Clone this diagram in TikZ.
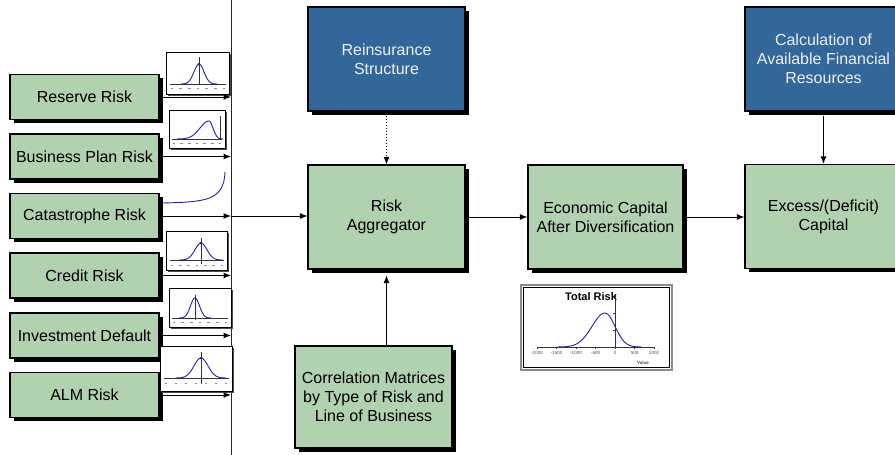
\documentclass[tikz,border=0pt]{standalone}
\usepackage{fontspec}
\setmainfont{Liberation Sans}
\usetikzlibrary{arrows.meta,shadows}
\definecolor{boxgreen}{RGB}{178,209,176}
\definecolor{boxblue}{RGB}{51,102,153}
\definecolor{curveblue}{RGB}{36,36,150}
\definecolor{bluetext}{RGB}{235,240,245}
\newcommand{\mychartbox}[4]{%
  \fill[black!70] (#1+2,#2+2) rectangle (#3+2,#4+2);
  \draw[fill=white, draw=black, line width=0.9pt] (#1,#2) rectangle (#3,#4);}
\newcommand{\myskew}[5]{% mu, sigma left, sigma right, amplitude, axis y
  \pgfmathsetmacro\myA{#1-3.6*#2}\pgfmathsetmacro\myB{#1+3.6*#3}%
  \draw[curveline] plot[domain=\myA:#1,samples=30,smooth] (\x,{#5-#4*exp(-((\x-#1)*(\x-#1))/(2*#2*#2))});
  \draw[curveline] plot[domain=#1:\myB,samples=30,smooth] (\x,{#5-#4*exp(-((\x-#1)*(\x-#1))/(2*#3*#3))});}
\newcommand{\myspecks}[3]{% x1, x2, y
  \foreach \k in {0,...,6} {\pgfmathsetmacro\myX{#1+(#2-#1)*\k/6}
    \draw[black!45, line width=0.7pt] (\myX-1.2,#3) -- (\myX+1.2,#3);}}
\begin{document}
\begin{tikzpicture}[x=1pt,y=-1pt,
  box/.style={draw=black, line width=1.2pt, inner sep=0pt, align=center,
    font=\fontsize{16}{19}\selectfont,
    drop shadow={shadow xshift=3.5pt, shadow yshift=-3.5pt, fill=black, opacity=1}},
  greenbox/.style={box, fill=boxgreen, text=black},
  bluebox/.style={box, fill=boxblue, text=bluetext},
  leftbox/.style={greenbox, minimum width=149pt, minimum height=45pt},
  bigbox/.style={minimum width=157pt, minimum height=104pt},
  conn/.style={line width=1pt, -{Latex[length=7.5pt,width=6pt]}},
  vline/.style={line width=1pt, black!85},
  axisline/.style={line width=0.6pt, black!80},
  curveline/.style={line width=0.9pt, curveblue},
  ticklabel/.style={font=\fontsize{4.5}{5}\selectfont, text=black!70, inner sep=0pt}
]
\useasboundingbox (0,0) rectangle (895,455);
\fill[white] (0,0) rectangle (895,455);

% vertical collector line
\coordinate (vtop) at (231,0);
\coordinate (vbot) at (231,455);
\draw[vline] (vtop) -- (vbot);

% left risk boxes
\node[leftbox] (res) at (84.5,97) {Reserve Risk};
\node[leftbox] (bus) at (84.5,156.5) {Business Plan Risk};
\node[leftbox] (cat) at (84.5,216) {Catastrophe Risk};
\node[leftbox] (cre) at (84.5,275.5) {Credit Risk};
\node[leftbox] (inv) at (84.5,335.5) {Investment Default};
\node[leftbox] (alm) at (84.5,395) {ALM Risk};

% main boxes
\node[bluebox, bigbox] (rein) at (386.5,59) {Reinsurance\\Structure};
\node[greenbox, bigbox] (agg) at (386.5,217) {Risk\\Aggregator};
\node[greenbox, minimum width=157pt, minimum height=102pt] (corr) at (373.5,397) {Correlation Matrices\\by Type of Risk and\\Line of Business};
\node[greenbox, minimum width=155pt, minimum height=104pt] (econ) at (605.5,217) {Economic Capital\\After Diversification};
\node[greenbox, bigbox] (exc) at (823.5,216.5) {Excess/(Deficit)\\Capital};
\node[bluebox, bigbox] (calc) at (823.5,59) {Calculation of\\Available Financial\\Resources};

% mini charts
% Reserve
\mychartbox{166}{52}{229}{94}
\draw[axisline] (170,84) -- (226,84);
\draw[axisline] (199,57) -- (199,84);
\myskew{199}{5}{5}{20}{84}
\fill[curveblue] (199,64) circle (1.4);
\myspecks{172}{224}{88}
% Business plan
\mychartbox{169}{110}{225}{148}
\draw[axisline] (172,139) -- (222,139);
\draw[axisline] (220,116) -- (220,139);
\myskew{209}{9}{4}{18}{139}
\myspecks{174}{220}{143}
% Catastrophe
\draw[curveline] (162,203) .. controls (205,202) and (224,201) .. (225,172);
% Credit
\mychartbox{166}{231}{227}{270}
\draw[axisline] (170,260) -- (224,260);
\draw[axisline] (201,238) -- (201,264);
\myskew{201}{6}{6}{17}{260}
\fill[curveblue] (201,243) circle (1.4);
\myspecks{172}{222}{265}
% Investment
\mychartbox{169}{288}{231}{327}
\draw[axisline] (172,318) -- (228,318);
\draw[axisline] (195,295) -- (195,320);
\myskew{195}{4.5}{4.5}{20}{318}
\myspecks{174}{226}{322}
% ALM
\mychartbox{160}{346}{232}{391}
\draw[axisline] (164,378) -- (229,378);
\draw[axisline] (201,352) -- (201,384);
\myskew{201}{7}{7}{20}{378}
\fill[curveblue] (201,358) circle (1.4);
\myspecks{166}{226}{383}

% Total risk chart
\draw[fill=white, draw=black!45, line width=2pt] (521,285) rectangle (672,370);
\draw[black, line width=0.8pt] (523.5,287.5) rectangle (669.5,367.5);
\node[font=\bfseries\fontsize{11}{12}\selectfont, inner sep=0pt] (ttl) at (591,297) {Total Risk};
\draw[axisline] (537,347) -- (655,347);
\draw[axisline] (615,295) -- (615,347);
\foreach \yy in {313,330} \draw[axisline] (613,\yy) -- (615,\yy);
\foreach \v [count=\k from 0] in {-2000,-1500,-1000,-500,0,500,1000} {
  \pgfmathsetmacro\myX{537+19.5*\k}
  \draw[axisline] (\myX,347) -- (\myX,349);
  \node[ticklabel] at (\myX,353) {\v};}
\node[ticklabel, font=\bfseries\fontsize{4.5}{5}\selectfont] (val) at (643,363) {Value};
\myskew{605}{13}{10}{34}{347}

% connectors to collector line
\draw[conn, shorten <=3pt] (res.east) -- (res.east -| vtop);
\draw[conn, shorten <=3pt] (bus.east) -- (bus.east -| vtop);
\draw[conn, shorten <=3pt] (cat.east) -- (cat.east -| vtop);
\draw[conn, shorten <=3pt] (cre.east) -- (cre.east -| vtop);
\draw[conn, shorten <=3pt] (inv.east) -- (inv.east -| vtop);
\draw[conn, shorten <=3pt] (alm.east) -- (alm.east -| vtop);
\draw[conn] (cat.east -| vtop) -- (cat.east -| agg.west);

% main connectors
\draw[conn, dotted, shorten <=4pt] (rein.south) -- (agg.north);
\draw[conn, shorten >=6pt] (corr.north -| agg.south) -- (agg.south);
\draw[conn, shorten <=3.5pt] (agg.east) -- (econ.west);
\draw[conn, shorten <=3.5pt] (econ.east) -- (exc.west |- econ.east);
\draw[conn, shorten <=4pt] (calc.south) -- (exc.north);
\end{tikzpicture}
\end{document}
